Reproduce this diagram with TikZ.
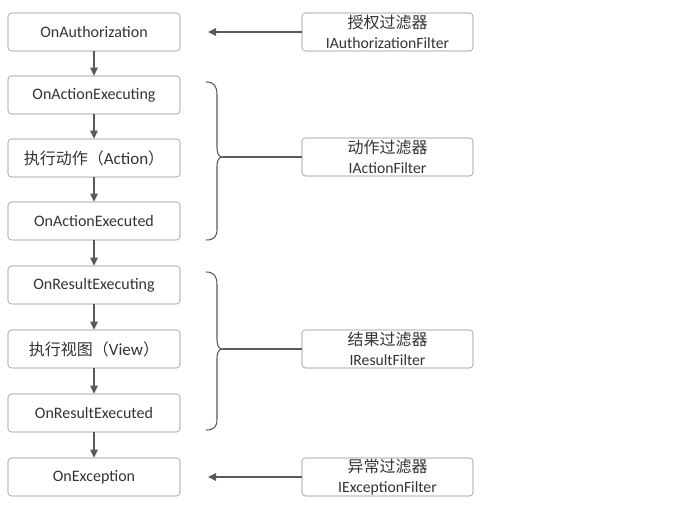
\documentclass[tikz,border=0pt]{standalone}
\usepackage{fontspec}
\setmainfont{Carlito}
\newfontfamily\cjk{Noto Sans CJK SC}
\usetikzlibrary{arrows.meta,positioning}
\definecolor{linegray}{HTML}{595959}
\definecolor{boxgray}{HTML}{8C8C8C}
\definecolor{textgray}{HTML}{333333}

\begin{document}
\begin{tikzpicture}[x=0.75pt,y=-0.75pt,
	box/.style={draw=boxgray,rounded corners=2.5pt,minimum width=129pt,minimum height=28.5pt,inner sep=0pt,text=textgray,font=\fontsize{12}{13}\selectfont},
	fbox/.style={box,minimum width=128.25pt,align=center,font=\fontsize{11.75}{15.5}\selectfont},
	link/.style={draw=linegray,line width=1.1pt,-{Triangle[length=6pt,width=5.5pt]}},
	brace/.style={draw=linegray,line width=0.8pt}]
	\useasboundingbox (0,0) rectangle (687,509);
	% left column
	\node[box] (auth) at (94,32) {OnAuthorization};
	\node[box] (actexing) at (94,95) {OnActionExecuting};
	\node[box,font=\fontsize{12.75}{14}\selectfont] (action) at (94,158) {{\cjk\fontsize{12}{14}\selectfont 执行动作（}Action{\cjk\fontsize{12}{14}\selectfont ）}};
	\node[box] (actexed) at (94,221) {OnActionExecuted};
	\node[box] (resexing) at (94,285) {OnResultExecuting};
	\node[box,font=\fontsize{12.75}{14}\selectfont] (view) at (94,349) {{\cjk\fontsize{12}{14}\selectfont 执行视图（}View{\cjk\fontsize{12}{14}\selectfont ）}};
	\node[box] (resexed) at (94,413) {OnResultExecuted};
	\node[box] (exc) at (94,477) {OnException};
	\draw[link] (auth) -- (actexing);
	\draw[link] (actexing) -- (action);
	\draw[link] (action) -- (actexed);
	\draw[link] (actexed) -- (resexing);
	\draw[link] (resexing) -- (view);
	\draw[link] (view) -- (resexed);
	\draw[link] (resexed) -- (exc);
	% filters
	\node[fbox] (fauth) at (387.5,32) {{\cjk\fontsize{12}{15.5}\selectfont 授权过滤器}\\IAuthorizationFilter};
	\node[fbox] (faction) at (387.5,157) {{\cjk\fontsize{12}{15.5}\selectfont 动作过滤器}\\IActionFilter};
	\node[fbox] (fresult) at (387.5,349) {{\cjk\fontsize{12}{15.5}\selectfont 结果过滤器}\\IResultFilter};
	\node[fbox] (fexc) at (387.5,477) {{\cjk\fontsize{12}{15.5}\selectfont 异常过滤器}\\IExceptionFilter};
	\coordinate (authend) at (208,32);
	\coordinate (excend) at (208,477);
	\draw[link] (fauth) -- (authend);
	\draw[link] (fexc) -- (excend);
	% braces
	\coordinate (atip) at (223,157);
	\coordinate (rtip) at (223,349);
	\draw[brace] (206,82) .. controls (214,82) and (217,86) .. (217,95) -- (217,148)
		.. controls (217,154) and (219,157) .. (atip)
		.. controls (219,157) and (217,160) .. (217,166) -- (217,229)
		.. controls (217,237) and (214,240) .. (206,240);
	\draw[brace] (206,272) .. controls (214,272) and (217,276) .. (217,285) -- (217,340)
		.. controls (217,346) and (219,349) .. (rtip)
		.. controls (219,349) and (217,352) .. (217,358) -- (217,419)
		.. controls (217,427) and (214,430) .. (206,430);
	\draw[brace] (atip) -- (faction);
	\draw[brace] (rtip) -- (fresult);
\end{tikzpicture}
\end{document}
